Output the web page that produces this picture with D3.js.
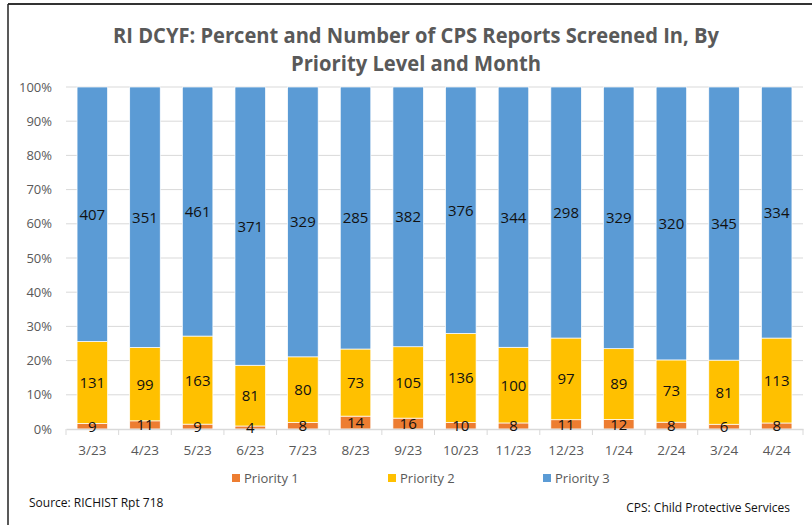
<!DOCTYPE html>
<html>
<head>
<meta charset="utf-8">
<script src="https://cdn.jsdelivr.net/npm/d3@7"></script>
<style>
  body { margin: 0; background: #fff; }
  svg { display: block; font-family: "Open Sans", "Noto Sans", sans-serif; }
</style>
</head>
<body>
<div id="chart"></div>
<script>
// data
var months = ["3/23","4/23","5/23","6/23","7/23","8/23","9/23","10/23","11/23","12/23","1/24","2/24","3/24","4/24"];
var priority1 = [9, 11, 9, 4, 8, 14, 16, 10, 8, 11, 12, 8, 6, 8];
var priority2 = [131, 99, 163, 81, 80, 73, 105, 136, 100, 97, 89, 73, 81, 113];
var priority3 = [407, 351, 461, 371, 329, 285, 382, 376, 344, 298, 329, 320, 345, 334];
var seriesNames = ["Priority 1", "Priority 2", "Priority 3"];
var yTicks = [0, 0.1, 0.2, 0.3, 0.4, 0.5, 0.6, 0.7, 0.8, 0.9, 1];

var W = 812, H = 525;
var colors = ["#ED7D31", "#FFC000", "#5B9BD5"];
var margin = {left: 66, right: 9, top: 87, bottom: 96};

var svg = d3.select("#chart").append("svg")
  .attr("width", W).attr("height", H);

// frame
svg.append("line").attr("x1", 8).attr("x2", W).attr("y1", 4).attr("y2", 4)
  .attr("stroke", "#333").attr("stroke-width", 2);
svg.append("line").attr("x1", 8).attr("x2", 8).attr("y1", 4).attr("y2", H)
  .attr("stroke", "#222").attr("stroke-width", 1.5);

// title
var title = svg.append("text")
  .attr("text-anchor", "middle")
  .attr("fill", "#595959")
  .style("font-weight", "bold")
  .style("font-size", "21px");
title.append("tspan").attr("x", 416).attr("y", 43)
  .text("RI DCYF: Percent and Number of CPS Reports Screened In, By")
  .attr("textLength", 606).attr("lengthAdjust", "spacingAndGlyphs");
title.append("tspan").attr("x", 416).attr("y", 71)
  .text("Priority Level and Month")
  .attr("textLength", 250).attr("lengthAdjust", "spacingAndGlyphs");

var rows = months.map(function(m, i) {
  return {month: m, p1: priority1[i], p2: priority2[i], p3: priority3[i]};
});

var x = d3.scaleBand().domain(months)
  .range([margin.left, W - margin.right]).paddingInner(0.42).paddingOuter(0.21);
var y = d3.scaleLinear().domain([0, 1]).range([H - margin.bottom, margin.top]);

var stack = d3.stack().keys(["p1", "p2", "p3"]).offset(d3.stackOffsetExpand);
var layers = stack(rows);

// gridlines
svg.append("g").selectAll("line").data(yTicks.slice(1)).enter().append("line")
  .attr("x1", margin.left).attr("x2", W - margin.right)
  .attr("y1", function(d) { return y(d); }).attr("y2", function(d) { return y(d); })
  .attr("stroke", "#d9d9d9").attr("stroke-width", 1);

// y axis
var yAxis = svg.append("g")
  .attr("transform", "translate(" + margin.left + ",0)")
  .call(d3.axisLeft(y).tickValues(yTicks).tickFormat(d3.format(".0%")).tickSize(0).tickPadding(14));
yAxis.select(".domain").remove();
yAxis.selectAll("text").attr("fill", "#595959").style("font-size", "13px")
  .style("font-family", "'Open Sans', sans-serif");

// bars
var groups = svg.append("g").selectAll("g").data(layers).enter().append("g")
  .attr("fill", function(d, i) { return colors[i]; });
groups.selectAll("rect").data(function(d) { return d; }).enter().append("rect")
  .attr("x", function(d) { return x(d.data.month); })
  .attr("width", x.bandwidth())
  .attr("y", function(d) { return y(d[1]); })
  .attr("height", function(d) { return y(d[0]) - y(d[1]); })
  .attr("stroke", "#fff").attr("stroke-width", 0.7);

// x axis
var xAxis = svg.append("g")
  .attr("transform", "translate(0," + y(0) + ")")
  .call(d3.axisBottom(x).tickSize(0).tickPadding(16));
xAxis.select(".domain").attr("stroke", "#d9d9d9").attr("stroke-width", 1.5);
xAxis.selectAll("text").attr("fill", "#595959").style("font-size", "13.5px")
  .style("font-family", "'Open Sans', sans-serif");
// category separators
svg.append("g").selectAll("line").data(d3.range(months.length + 1)).enter().append("line")
  .attr("x1", function(i) { return margin.left + i * (W - margin.right - margin.left) / months.length; })
  .attr("x2", function(i) { return margin.left + i * (W - margin.right - margin.left) / months.length; })
  .attr("y1", y(0)).attr("y2", y(0) + 6)
  .attr("stroke", "#d9d9d9").attr("stroke-width", 1);

// data labels
var labels = svg.append("g").selectAll("g").data(layers).enter().append("g");
labels.selectAll("text").data(function(d) { return d.map(function(v) { return {v: v, key: d.key}; }); })
  .enter().append("text")
  .attr("x", function(d) { return x(d.v.data.month) + x.bandwidth() / 2; })
  .attr("y", function(d) { return y((d.v[0] + d.v[1]) / 2); })
  .attr("dy", "0.36em")
  .attr("text-anchor", "middle")
  .attr("fill", "#111")
  .style("font-size", "15px")
  .text(function(d) { return d.v.data[d.key]; });

// legend
var legendX = [232, 388, 543];
var legend = svg.append("g").selectAll("g").data(seriesNames).enter().append("g")
  .attr("transform", function(d, i) { return "translate(" + legendX[i] + ",478)"; });
legend.append("rect").attr("x", 0).attr("y", -4).attr("width", 8).attr("height", 8)
  .attr("fill", function(d, i) { return colors[i]; });
legend.append("text").attr("x", 12).attr("y", 0).attr("dy", "0.35em")
  .attr("fill", "#595959").style("font-size", "13px").text(function(d) { return d; });

// footnotes
svg.append("text").attr("x", 29).attr("y", 507).attr("fill", "#111")
  .style("font-size", "12px").text("Source: RICHIST Rpt 718");
svg.append("text").attr("x", 790).attr("y", 512).attr("text-anchor", "end").attr("fill", "#111")
  .style("font-size", "12px").text("CPS: Child Protective Services");
</script>
</body>
</html>
